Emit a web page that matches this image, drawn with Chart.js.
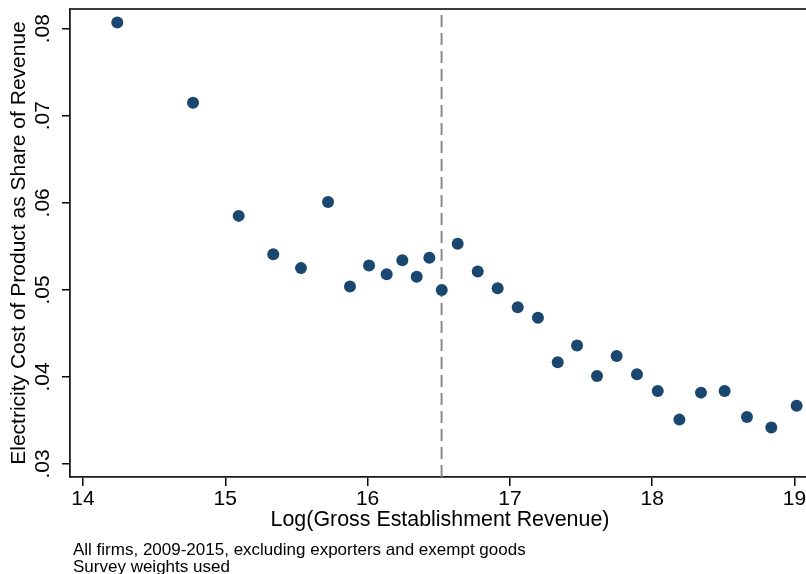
<!DOCTYPE html>
<html>
<head>
<meta charset="utf-8">
<script src="https://cdn.jsdelivr.net/npm/chart.js@4/dist/chart.umd.min.js"></script>
<style>
  html, body { margin: 0; padding: 0; background: #fff; overflow: hidden; }
  #wrap { width: 806px; height: 574px; overflow: hidden; position: relative; }
  canvas { display: block; }
</style>
</head>
<body>
<div id="wrap"><canvas id="c" width="810" height="574"></canvas></div>
<script>
// Binned means: log gross establishment revenue vs electricity cost share
const logRevenue = [
  14.241, 14.773, 15.094, 15.337, 15.532, 15.722, 15.876, 16.010, 16.134, 16.244,
  16.345, 16.434, 16.521, 16.633, 16.774, 16.914, 17.055, 17.197, 17.336, 17.472,
  17.612, 17.750, 17.893, 18.039, 18.191, 18.343, 18.509, 18.666, 18.837, 19.015
];
const costShare = [
  0.0807, 0.0715, 0.0585, 0.0541, 0.0525, 0.0601, 0.0504, 0.0528, 0.0518, 0.0534,
  0.0515, 0.0537, 0.0500, 0.0553, 0.0521, 0.0502, 0.0480, 0.0468, 0.0417, 0.0436,
  0.0401, 0.0424, 0.0403, 0.0384, 0.0351, 0.0382, 0.0384, 0.0354, 0.0342, 0.0367
];
// Threshold marker on the revenue axis
const thresholdX = 16.52;

const xTickValues = [14, 15, 16, 17, 18, 19];
const xTickLabels = ['14', '15', '16', '17', '18', '19'];
const yTickValues = [0.03, 0.04, 0.05, 0.06, 0.07, 0.08];
const yTickLabels = ['.03', '.04', '.05', '.06', '.07', '.08'];

const xMin = 13.9086, xMax = 19.109;
const yMin = 0.02851, yMax = 0.08226;

const footnoteLines = [
  'All firms, 2009-2015, excluding exporters and exempt goods',
  'Survey weights used'
];

const FONT = '"Liberation Sans", Arial, Helvetica, sans-serif';
Chart.defaults.font.family = FONT;
Chart.defaults.color = '#000';

const points = logRevenue.map((x, i) => ({ x: x, y: costShare[i] }));

// Keep the plot region fixed: no extra margins reserved for edge labels
function fixPadding(s) {
  s.paddingTop = 0; s.paddingBottom = 0; s.paddingLeft = 0; s.paddingRight = 0;
}

// Top/right frame of the plot region
const framePlugin = {
  id: 'frame',
  beforeDatasetsDraw(chart) {
    const { ctx, chartArea: a } = chart;
    ctx.save();
    ctx.strokeStyle = '#3a3a3a';
    ctx.lineWidth = 1.8;
    ctx.beginPath();
    ctx.moveTo(a.left, a.top);
    ctx.lineTo(a.right, a.top);
    ctx.lineTo(a.right, a.bottom);
    ctx.stroke();
    ctx.restore();
  }
};

// Source note under the x-axis
const notePlugin = {
  id: 'note',
  afterDraw(chart) {
    const { ctx } = chart;
    ctx.save();
    ctx.fillStyle = '#000';
    ctx.font = '17px ' + FONT;
    ctx.textBaseline = 'alphabetic';
    ctx.textAlign = 'left';
    ctx.fillText(footnoteLines[0], 73, 555);
    ctx.fillText(footnoteLines[1], 73, 572);
    ctx.restore();
  }
};

new Chart(document.getElementById('c'), {
  type: 'scatter',
  data: {
    datasets: [
      {
        type: 'scatter',
        data: points,
        pointStyle: 'circle',
        pointRadius: 6,
        pointHoverRadius: 6,
        backgroundColor: '#1a476f',
        borderWidth: 0,
        order: 1
      },
      {
        type: 'line',
        data: [{ x: thresholdX, y: yMin }, { x: thresholdX, y: yMax }],
        borderColor: '#8a8a8a',
        borderWidth: 2,
        borderDash: [12, 6],
        pointRadius: 0,
        fill: false,
        order: 2
      }
    ]
  },
  options: {
    responsive: false,
    animation: false,
    events: [],
    layout: { autoPadding: false, padding: { left: 0, top: 9, right: 0, bottom: 40 } },
    plugins: {
      legend: { display: false },
      tooltip: { enabled: false }
    },
    scales: {
      x: {
        type: 'linear',
        min: xMin,
        max: xMax,
        afterBuildTicks: s => { s.ticks = xTickValues.map(v => ({ value: v })); },
        afterFit: s => { s.height = 57; fixPadding(s); },
        grid: {
          drawOnChartArea: false,
          drawTicks: true,
          tickLength: 9,
          color: '#000',
          lineWidth: 1.5
        },
        border: { display: true, color: '#1a1a1a', width: 1.8 },
        ticks: {
          font: { size: 21 },
          padding: 1,
          maxRotation: 0,
          autoSkip: false,
          callback: (v, i) => xTickLabels[i]
        },
        title: {
          display: true,
          text: 'Log(Gross Establishment Revenue)',
          font: { size: 21.4 },
          padding: { top: 0, bottom: 1 }
        }
      },
      y: {
        type: 'linear',
        min: yMin,
        max: yMax,
        afterBuildTicks: s => { s.ticks = yTickValues.map(v => ({ value: v })); },
        afterFit: s => { s.width = 70; fixPadding(s); },
        grid: {
          drawOnChartArea: false,
          drawTicks: true,
          tickLength: 8,
          color: '#000',
          lineWidth: 1.5
        },
        border: { display: true, color: '#1a1a1a', width: 1.8 },
        ticks: {
          font: { size: 21 },
          minRotation: 90,
          maxRotation: 90,
          crossAlign: 'center',
          padding: 4,
          autoSkip: false,
          callback: (v, i) => yTickLabels[i]
        },
        title: {
          display: true,
          text: 'Electricity Cost of Product as Share of Revenue',
          font: { size: 21 },
          padding: { top: 7, bottom: 0 }
        }
      }
    }
  },
  plugins: [framePlugin, notePlugin]
});
</script>
</body>
</html>
